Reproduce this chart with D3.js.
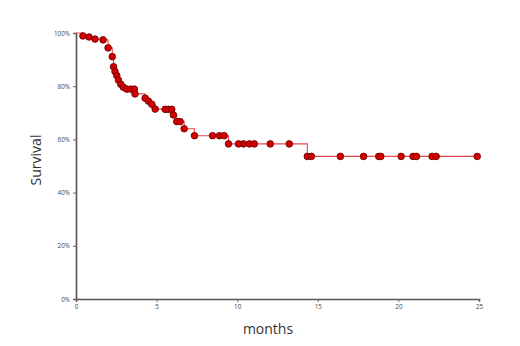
<!DOCTYPE html>
<html>
<head>
<meta charset="utf-8">
<script src="https://cdn.jsdelivr.net/npm/d3@7"></script>
<style>
    body { margin: 0; background: #fff; }
    text { font-family: "Open Sans", "DejaVu Sans", sans-serif; }
</style>
</head>
<body>
<script>
    // Data: KM estimate (months, survival %)
    let months = [0, 0.43, 0.81, 1.18, 1.68, 1.99, 2.25, 2.33, 2.42, 2.53, 2.63, 2.78, 2.94, 3.15, 3.40, 3.62, 3.66,
        4.29, 4.49, 4.70, 4.91, 5.53, 5.73, 5.94, 6.04, 6.25, 6.46, 6.71, 7.35, 8.47, 8.90, 9.19, 9.46,
        10.08, 10.39, 10.76, 11.06, 12.05, 13.23, 14.35, 14.60, 16.40, 17.84, 18.78, 18.91, 20.17, 20.91,
        21.12, 22.09, 22.34, 24.89];
    let survival = [100, 98.9, 98.5, 97.7, 97.4, 94.4, 91.1, 87.3, 85.5, 84.0, 82.3, 80.7, 79.6, 78.9, 78.9, 78.9, 77.1,
        75.5, 74.4, 73.2, 71.4, 71.3, 71.3, 71.3, 69.2, 66.7, 66.7, 64.0, 61.4, 61.4, 61.4, 61.4, 58.3,
        58.3, 58.3, 58.3, 58.3, 58.3, 58.3, 53.6, 53.6, 53.6, 53.6, 53.6, 53.6, 53.6, 53.6,
        53.6, 53.6, 53.6, 53.6];
    let xTicks = [0, 5, 10, 15, 20, 25];
    let yTicks = [0, 20, 40, 60, 80, 100];

    let pts = months.map((m, i) => ({ t: m, s: survival[i] }));

    let width = 520, height = 346;
    let svg = d3.select("body").append("svg")
        .attr("width", width)
        .attr("height", height);

    let x = d3.scaleLinear().domain([0, 25]).range([76, 479]);
    let y = d3.scaleLinear().domain([0, 100]).range([299, 33]);

    // Axes
    let xAxis = svg.append("g")
        .attr("transform", `translate(0, ${y(0)})`)
        .call(d3.axisBottom(x).tickValues(xTicks).tickSize(3).tickPadding(3));
    let yAxis = svg.append("g")
        .attr("transform", `translate(${x(0)}, 0)`)
        .call(d3.axisLeft(y).tickValues(yTicks).tickSize(3).tickPadding(3).tickFormat(d => d + "%"));

    [xAxis, yAxis].forEach(g => {
        g.select(".domain").attr("stroke", "#555").attr("stroke-width", 1.6);
        g.selectAll(".tick line").attr("stroke", "#666");
        g.selectAll("text").attr("fill", "#444").attr("font-size", 6.3);
    });

    // Step line
    svg.append("path")
        .datum(pts)
        .attr("fill", "none")
        .attr("stroke", "#e8494c")
        .attr("stroke-width", 1.1)
        .attr("d", d3.line().x(d => x(d.t)).y(d => y(d.s)).curve(d3.curveStepAfter));

    // Markers
    svg.selectAll("circle.mk")
        .data(pts.slice(1))
        .enter()
        .append("circle")
        .attr("class", "mk")
        .attr("cx", d => x(d.t))
        .attr("cy", d => y(d.s))
        .attr("r", 3.3)
        .attr("fill", "#d40000")
        .attr("stroke", "#700000")
        .attr("stroke-width", 0.9);

    // Axis titles
    svg.append("text")
        .attr("transform", `translate(41, 160) rotate(-90)`)
        .attr("text-anchor", "middle")
        .attr("font-size", 14)
        .attr("fill", "#333")
        .text("Survival");

    svg.append("text")
        .attr("x", 268)
        .attr("y", 334)
        .attr("text-anchor", "middle")
        .attr("font-size", 14)
        .attr("fill", "#333")
        .text("months");
</script>
</body>
</html>
